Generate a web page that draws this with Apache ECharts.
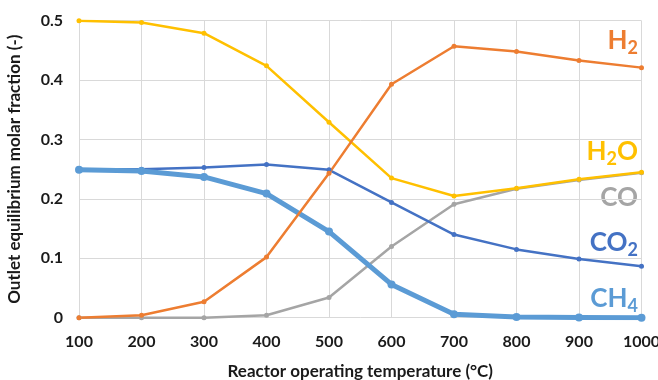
<!DOCTYPE html>
<html>
<head>
<meta charset="utf-8">
<script src="https://cdn.jsdelivr.net/npm/echarts@6/dist/echarts.min.js"></script>
<style>
  html, body { margin: 0; padding: 0; background: #fff; }
  #chart { width: 658px; height: 380px; }
</style>
</head>
<body>
<div id="chart"></div>
<script>
// reactor temperature (°C)
const temps = [100, 200, 300, 400, 500, 600, 700, 800, 900, 1000];
// outlet equilibrium molar fractions
const h2 = [0, 0.004, 0.027, 0.102, 0.243, 0.393, 0.457, 0.448, 0.433, 0.421];
const h2o = [0.5, 0.497, 0.479, 0.424, 0.329, 0.235, 0.205, 0.218, 0.233, 0.245];
const co = [0, 0, 0, 0.004, 0.034, 0.12, 0.191, 0.217, 0.232, 0.244];
const co2 = [0.25, 0.25, 0.253, 0.258, 0.249, 0.194, 0.14, 0.115, 0.099, 0.0865];
const ch4 = [0.249, 0.247, 0.237, 0.209, 0.145, 0.056, 0.006, 0.001, 0.0005, 0];

const font = "Lato";

function pairs(vals) {
  return temps.map((t, i) => [t, vals[i]]);
}

function thinLine(name, color, vals) {
  return {
    name: name,
    type: "line",
    data: pairs(vals),
    symbol: "circle",
    symbolSize: 5,
    lineStyle: { width: 2.5, color: color },
    itemStyle: { color: color },
  };
}

//右侧的系列标签, parts: [text, isSub]
function tag(parts, color, y) {
  return {
    type: "text",
    right: 20,
    top: y,
    style: {
      text: parts.map((p) => (p[1] ? "{s|" : "{m|") + p[0] + "}").join(""),
      rich: {
        m: { fontFamily: font, fontWeight: "bold", fontSize: 26, fill: color },
        s: { fontFamily: font, fontWeight: "bold", fontSize: 18, fill: color, padding: [14, 0, 0, 0] },
      },
    },
  };
}

const chart = echarts.init(document.getElementById("chart"));
chart.setOption({
  backgroundColor: "#fff",
  animation: false,
  grid: { left: 79, right: 16.5, top: 20.7, bottom: 62.3, outerBoundsMode: "none", containLabel: false },
  xAxis: {
    type: "value",
    min: 100,
    max: 1000,
    interval: 100,
    name: "Reactor operating temperature (°C)",
    nameLocation: "middle",
    nameGap: 45,
    nameTextStyle: { fontFamily: font, fontWeight: "bold", fontSize: 17, color: "#1a1a1a" },
    axisLine: { show: false },
    axisTick: { show: false },
    axisLabel: { fontFamily: font, fontWeight: "bold", fontSize: 16, color: "#1a1a1a", margin: 16, formatter: (v) => String(v) },
    splitLine: { lineStyle: { color: "#d9d9d9", width: 1 } },
  },
  yAxis: {
    type: "value",
    min: 0,
    max: 0.5,
    interval: 0.1,
    name: "Outlet equilibrium molar fraction (-)",
    nameLocation: "middle",
    nameGap: 56,
    nameTextStyle: { fontFamily: font, fontWeight: "bold", fontSize: 17, color: "#1a1a1a" },
    axisLine: { show: false },
    axisTick: { show: false },
    axisLabel: { fontFamily: font, fontWeight: "bold", fontSize: 16, color: "#1a1a1a", margin: 16 },
    splitLine: { lineStyle: { color: "#d9d9d9", width: 1 } },
  },
  series: [
    thinLine("CO", "#a5a5a5", co),
    thinLine("CO2", "#4472c4", co2),
    {
      name: "CH4",
      type: "line",
      data: pairs(ch4),
      symbol: "circle",
      symbolSize: 8,
      lineStyle: { width: 5, color: "#5b9bd5" },
      itemStyle: { color: "#5b9bd5" },
    },
    thinLine("H2O", "#ffc000", h2o),
    thinLine("H2", "#ed7d31", h2),
  ],
  graphic: [
    tag([["H", 0], ["2", 1]], "#ed7d31", 28),
    tag([["H", 0], ["2", 1], ["O", 0]], "#ffc000", 139),
    tag([["CO", 0]], "#a5a5a5", 185),
    tag([["CO", 0], ["2", 1]], "#4472c4", 230),
    tag([["CH", 0], ["4", 1]], "#5b9bd5", 286),
  ],
});
</script>
</body>
</html>
